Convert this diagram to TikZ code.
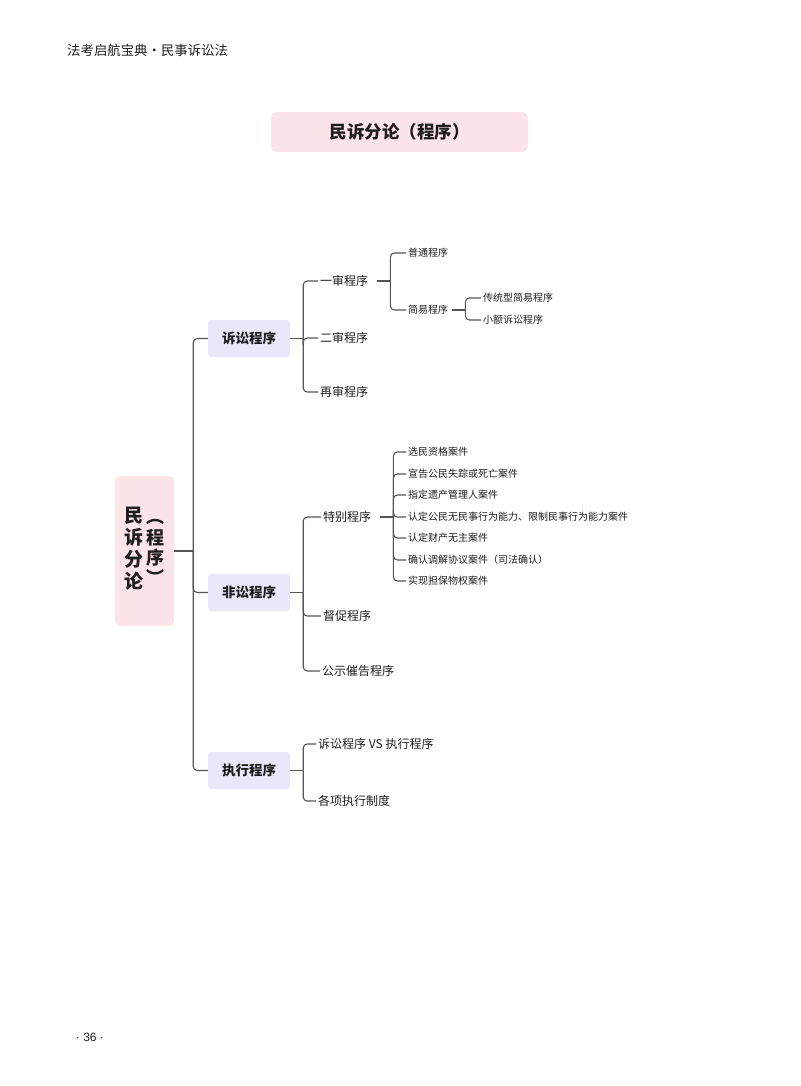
\documentclass[tikz,border=0pt]{standalone}
\usepackage{fontspec}
\setmainfont{Noto Sans CJK SC}
\newfontfamily\latinfont{Liberation Sans}
\definecolor{pinkbg}{RGB}{253,228,232}
\definecolor{lavbg}{RGB}{232,232,250}
\definecolor{linec}{RGB}{85,85,85}
\definecolor{txt}{RGB}{30,30,30}
\begin{document}
\begin{tikzpicture}[x=1pt,y=-1pt,
  conn/.style={draw=linec, line width=1.1pt, rounded corners=4pt},
  lvbox/.style={fill=lavbg, rounded corners=3pt, minimum width=82pt, minimum height=37pt, inner sep=0pt, text=txt, font=\fontsize{13.5}{15}\selectfont\bfseries},
  ttwo/.style={anchor=west, inner sep=2pt, text=txt, font=\fontsize{12}{14}\selectfont},
  tthree/.style={anchor=west, inner sep=2pt, text=txt, font=\fontsize{10}{12}\selectfont},
  plain/.style={inner sep=0pt, text=txt}
]
\useasboundingbox (0,0) rectangle (800,1086);

% header and footer
\node[plain, anchor=west, font=\fontsize{13.4}{15}\selectfont] (hdr) at (67,50) {法考启航宝典・民事诉讼法};
\node[plain, font=\latinfont\fontsize{12}{14}\selectfont] (pg) at (90,1037) {· 36 ·};

% title
\node[fill=pinkbg, rounded corners=5pt, minimum width=257pt, minimum height=40pt, inner sep=0pt, text=txt,
      font=\fontsize{17.5}{19}\selectfont\bfseries] (title) at (399.5,132) {民诉分论（程序）};

% root
\node[fill=pinkbg, rounded corners=5pt, minimum width=59pt, minimum height=150pt, inner sep=0pt, text=txt,
      font=\fontsize{19}{19.5}\selectfont\bfseries] (root) at (144.5,551)
  {$\vcenter{\hbox{\begin{tabular}{@{}c@{}}民\\诉\\分\\论\end{tabular}}}$\hspace{3pt}$\vcenter{\hbox{\fontsize{18}{17}\selectfont\begin{tabular}{@{}c@{}}︵\\程\\序\\︶\end{tabular}}}$};

% level 1
\node[lvbox] (b1) at (249,338.5) {诉讼程序};
\node[lvbox] (b2) at (249,592.5) {非讼程序};
\node[lvbox] (b3) at (249,770.5) {执行程序};

\draw[conn] (root.east) -- ++(19,0) coordinate (jt);
\foreach \n in {b1,b2,b3} \draw[conn] (jt) |- (\n.west);

% 诉讼程序
\node[ttwo] (a1) at (318,281) {一审程序};
\node[ttwo] (a2) at (318,338) {二审程序};
\node[ttwo] (a3) at (318,392) {再审程序};
\draw[conn] (b1.east) -- ++(13,0) coordinate (j1);
\foreach \n in {a1,a2,a3} \draw[conn] (j1) |- (\n.west);

\node[tthree] (a11) at (406,253) {普通程序};
\node[tthree] (a12) at (406,310) {简易程序};
\draw[conn] ([xshift=7pt]a1.east) -- ([xshift=20pt]a1.east) coordinate (j11);
\foreach \n in {a11,a12} \draw[conn] (j11) |- (\n.west);

\node[tthree] (a121) at (481,298) {传统型简易程序};
\node[tthree] (a122) at (481,320) {小额诉讼程序};
\draw[conn] ([xshift=2pt]a12.east) -- ([xshift=15pt]a12.east) coordinate (j12);
\foreach \n in {a121,a122} \draw[conn] (j12) |- (\n.west);

% 非讼程序
\node[ttwo] (c1) at (321,517) {特别程序};
\node[ttwo] (c2) at (321,616) {督促程序};
\node[ttwo] (c3) at (320,671) {公示催告程序};
\draw[conn] (b2.east) -- ++(13,0) coordinate (j2);
\foreach \n in {c1,c2,c3} \draw[conn] (j2) |- (\n.west);

\node[tthree] (s1) at (406,452) {选民资格案件};
\node[tthree] (s2) at (406,474) {宣告公民失踪或死亡案件};
\node[tthree] (s3) at (406,495) {指定遗产管理人案件};
\node[tthree] (s4) at (406,517) {认定公民无民事行为能力、限制民事行为能力案件};
\node[tthree] (s5) at (406,538) {认定财产无主案件};
\node[tthree] (s6) at (406,560) {确认调解协议案件（司法确认）};
\node[tthree] (s7) at (406,581) {实现担保物权案件};
\draw[conn] ([xshift=7pt]c1.east) -- ([xshift=20pt]c1.east) coordinate (j21);
\foreach \n in {s1,s2,s3,s4,s5,s6,s7} \draw[conn] (j21) |- (\n.west);

% 执行程序
\node[ttwo] (e1) at (316,744) {诉讼程序 VS 执行程序};
\node[ttwo] (e2) at (316,801) {各项执行制度};
\draw[conn] (b3.east) -- ++(13,0) coordinate (j3);
\foreach \n in {e1,e2} \draw[conn] (j3) |- (\n.west);
\end{tikzpicture}
\end{document}
